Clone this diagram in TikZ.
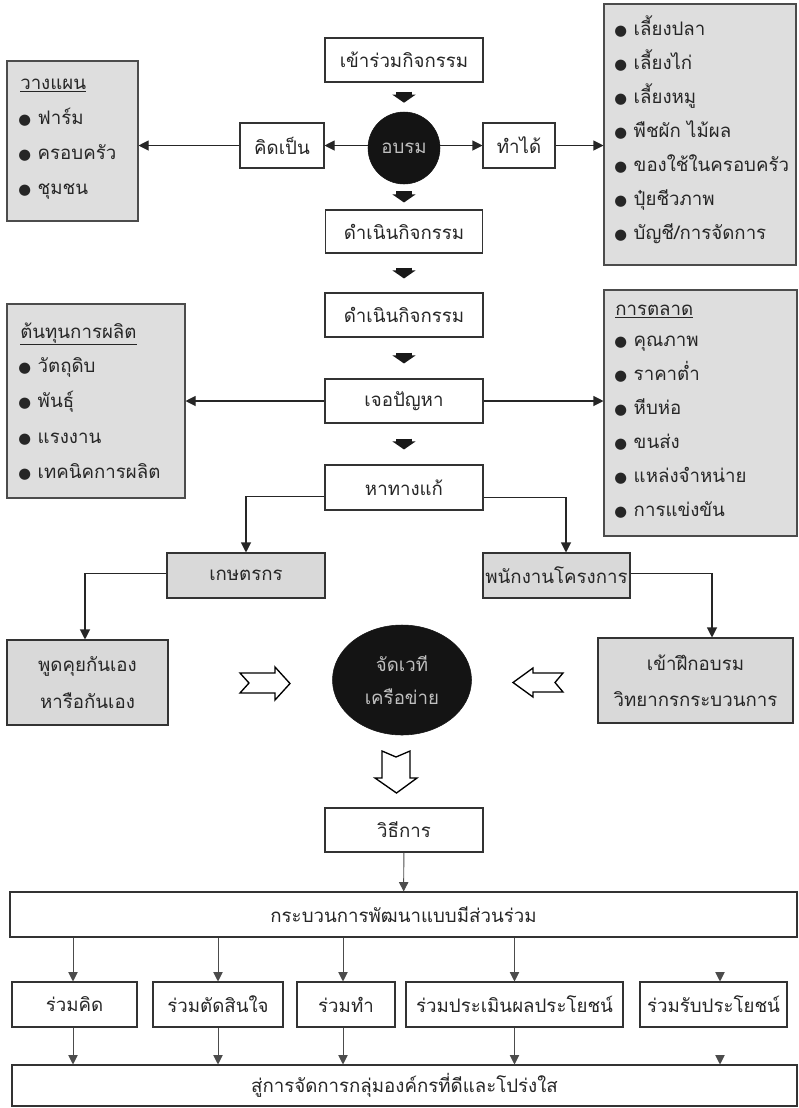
\documentclass[tikz,border=0pt]{standalone}
\usepackage{fontspec}
\setmainfont[Script=Thai]{Loma}
\newfontfamily\dejavu{DejaVu Sans}
\usetikzlibrary{arrows.meta,calc,shapes.geometric}
\newcommand\blt{{\dejavu\fontsize{11}{11}\selectfont ●}\hspace{5pt}}
\begin{document}
\begin{tikzpicture}[x=0.75pt,y=-0.75pt,
  every node/.style={font=\fontsize{14}{16}\selectfont, text=black!85},
  box/.style={draw=black!80, line width=0.8pt, fill=white, inner sep=0pt, align=center},
  gbox/.style={box, fill=black!15},
  panel/.style={draw=black!70, line width=0.8pt, fill=black!13, inner sep=0pt},
  wh/.style 2 args={minimum width=#1*0.75pt, minimum height=#2*0.75pt},
  item/.style={inner sep=0pt, anchor=west, text height=10pt, text depth=4pt},
  arr/.style={draw=black!85, line width=0.8pt, -{Triangle[width=7.5pt,length=7.5pt]}},
  arrg/.style={draw=black!70, line width=0.7pt, -{Triangle[width=7pt,length=7pt]}},
  fat/.style={draw=black!90, line width=12pt, -{Triangle[width=17pt,length=6pt]}, shorten <=#1, shorten >=#1},
  hollow/.style={draw=black, line width=1pt, fill=white, line join=miter},
  blob/.style={fill=black!92, draw=black!92, inner sep=0pt, align=center, text=black!25}
]
\useasboundingbox (0,0) rectangle (799,1108);

% ---------- centre column ----------
\node[box, wh={158}{44}] (n1) at (404,60) {เข้าร่วมกิจกรรม};
\node[blob, circle, minimum size=72*0.75pt] (circ) at (404,148) {อบรม};
\node[box, wh={84}{45}] (kid) at (282,145.5) {คิดเป็น};
\node[box, wh={72}{45}] (tham) at (519,145.5) {ทำได้};
\node[box, wh={157}{43}] (d1) at (404,231.5) {ดำเนินกิจกรรม};
\node[box, wh={158}{44}] (d2) at (404,315) {ดำเนินกิจกรรม};
\node[box, wh={158}{44}] (jer) at (404,401) {เจอปัญหา};
\node[box, wh={158}{45}] (ha) at (404,487.5) {หาทางแก้};

% ---------- panels ----------
\node[panel, wh={131}{160}] (plan) at (72.5,141) {};
\node[item] (plt) at (20,85) {\underline{วางแผน}};
\node[item] (pl1) at (18,120) {\blt ฟาร์ม};
\node[item] (pl2) at (18,155) {\blt ครอบครัว};
\node[item] (pl3) at (18,190) {\blt ชุมชน};

\node[panel, wh={192}{261}] (act) at (700,134.5) {};
\node[item] (ac1) at (614,31) {\blt เลี้ยงปลา};
\node[item] (ac2) at (614,65) {\blt เลี้ยงไก่};
\node[item] (ac3) at (614,99) {\blt เลี้ยงหมู};
\node[item] (ac4) at (614,133) {\blt พืชผัก ไม้ผล};
\node[item] (ac5) at (614,167) {\blt ของใช้ในครอบครัว};
\node[item] (ac6) at (614,201) {\blt ปุ๋ยชีวภาพ};
\node[item] (ac7) at (614,235) {\blt บัญชี/การจัดการ};

\node[panel, wh={178}{194}] (cost) at (96,401) {};
\node[item] (cot) at (20,334) {\underline{ต้นทุนการผลิต}};
\node[item] (co1) at (18,368) {\blt วัตถุดิบ};
\node[item] (co2) at (18,403) {\blt พันธุ์};
\node[item] (co3) at (18,439) {\blt แรงงาน};
\node[item] (co4) at (18,474) {\blt เทคนิคการผลิต};

\node[panel, wh={193}{246}] (mkt) at (700.5,413) {};
\node[item] (mkt0) at (615,311) {\underline{การตลาด}};
\node[item] (mk1) at (614,342) {\blt คุณภาพ};
\node[item] (mk2) at (614,376) {\blt ราคาต่ำ};
\node[item] (mk3) at (614,410) {\blt หีบห่อ};
\node[item] (mk4) at (614,444) {\blt ขนส่ง};
\node[item] (mk5) at (614,478) {\blt แหล่งจำหน่าย};
\node[item] (mk6) at (614,512) {\blt การแข่งขัน};

% ---------- middle ----------
\node[gbox, wh={158}{45}] (farm) at (246,575.5) {เกษตรกร};
\node[gbox, wh={147}{45}] (staff) at (556.5,575.5) {พนักงานโครงการ};
\node[gbox, wh={161}{85}, font=\fontsize{14}{28}\selectfont] (talk) at (87.5,682.5) {พูดคุยกันเอง\\หารือกันเอง};
\node[gbox, wh={195}{85}, font=\fontsize{14}{27}\selectfont] (train) at (695.5,680.5) {เข้าฝึกอบรม\\วิทยากรกระบวนการ};
\node[blob, ellipse, minimum width=139*0.75pt, minimum height=110*0.75pt, font=\fontsize{14}{25}\selectfont] (ell) at (402,680) {จัดเวที\\เครือข่าย};

% ---------- bottom ----------
\node[box, wh={158}{44}] (withi) at (404,830) {วิธีการ};
\node[box, wh={787}{45}] (proc) at (403.5,914.5) {กระบวนการพัฒนาแบบมีส่วนร่วม};
\node[box, wh={125}{45}] (r1) at (74.5,1004.5) {ร่วมคิด};
\node[box, wh={130}{45}] (r2) at (218,1004.5) {ร่วมตัดสินใจ};
\node[box, wh={98}{45}] (r3) at (346,1004.5) {ร่วมทำ};
\node[box, wh={217}{45}] (r4) at (514.5,1004.5) {ร่วมประเมินผลประโยชน์};
\node[box, wh={147}{45}] (r5) at (713.5,1004.5) {ร่วมรับประโยชน์};
\node[box, wh={785}{41}] (fin) at (404.5,1085.5) {สู่การจัดการกลุ่มองค์กรที่ดีและโปร่งใส};

% ---------- fat arrows ----------
\draw[fat=6.75pt] (n1) -- (circ);
\draw[fat=5.25pt] (circ) -- (d1);
\draw[fat=10.5pt] (d1) -- (d2);
\draw[fat=11.25pt] (d2) -- (jer);
\draw[fat=11.25pt] (jer) -- (ha);

% ---------- thin arrows ----------
\draw[arr] (circ.west |- kid.east) -- (kid.east);
\draw[arr] (kid.west) -- (kid.west -| plan.east);
\draw[arr] (circ.east |- tham.west) -- (tham.west);
\draw[arr] (tham.east) -- (tham.east -| act.west);
\draw[arr] (jer.west) -- (jer.west -| cost.east);
\draw[arr] (jer.east) -- (jer.east -| mkt.west);
\draw[arr] ($(ha.west)+(0,9)$) -| (farm.north);
\draw[arr] ($(ha.east)+(0,10)$) -| ($(staff.north)+(9.5,0)$);
\draw[arr] ($(farm.west)+(0,-2)$) -| ($(talk.north)+(-2.5,0)$);
\draw[arr] ($(staff.east)+(0,-2)$) -| ($(train.north)+(16.5,0)$);

% ---------- hollow arrows ----------
\draw[hollow] (240,673) -- (275,673) -- (275,667) -- (290,683.5) -- (275,700) -- (275,693) -- (240,693) -- (249,683) -- cycle;
\draw[hollow] (563,673) -- (533,673) -- (533,668) -- (513,682.5) -- (533,697) -- (533,692) -- (563,692) -- (555,682.5) -- cycle;
\draw[hollow] (382,751) -- (396,757) -- (410,751) -- (410,778) -- (417,778) -- (396.5,793) -- (375,778) -- (382,778) -- cycle;

% ---------- bottom arrows ----------
\draw[arrg] (withi) -- (proc);
\draw[arrg] ($(proc.south -| r1.north)+(-1.5,0)$) -- ($(r1.north)+(-1.5,0)$);
\draw[arrg] (proc.south -| r2.north) -- (r2.north);
\draw[arrg] ($(proc.south -| r3.north)+(-3,0)$) -- ($(r3.north)+(-3,0)$);
\draw[arrg] (proc.south -| r4.north) -- (r4.north);
\draw[arrg] ($(r5.north)+(6.5,-8)$) -- ($(r5.north)+(6.5,0)$);
\draw[arrg] ($(r1.south)+(-1.5,0)$) -- ($(r1.south |- fin.north)+(-1.5,0)$);
\draw[arrg] (r2.south) -- (r2.south |- fin.north);
\draw[arrg] ($(r3.south)+(-3,0)$) -- ($(r3.south |- fin.north)+(-3,0)$);
\draw[arrg] (r4.south) -- (r4.south |- fin.north);
\draw[arrg] ($(r5.south |- fin.north)+(6.5,-8)$) -- ($(r5.south |- fin.north)+(6.5,0)$);
\end{tikzpicture}
\end{document}
